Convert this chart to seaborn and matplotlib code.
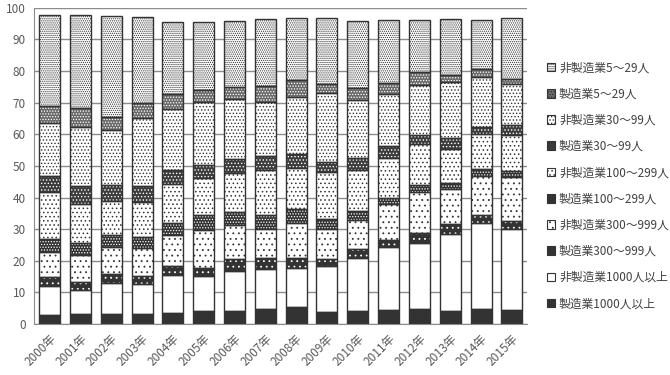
import numpy as np
import matplotlib
matplotlib.use("Agg")
import matplotlib.pyplot as plt
from matplotlib.patches import Rectangle, Patch
import seaborn as sns

# 企業規模別の構成（2000〜2015年）
years = [f"{y}年" for y in range(2000, 2016)]

mfg_1000 = [3.0, 3.3, 3.3, 3.3, 3.6, 4.1, 4.1, 4.7, 5.4, 3.8, 4.1, 4.4, 4.7, 4.1, 4.7, 4.4]
non_1000 = [9.1, 7.6, 9.8, 9.3, 12.0, 11.2, 12.8, 12.8, 12.4, 14.7, 16.9, 20.1, 21.0, 24.5, 27.4, 25.8]
mfg_300 = [2.8, 2.4, 2.7, 2.5, 2.9, 2.4, 3.7, 3.3, 3.0, 2.0, 2.6, 2.0, 3.0, 2.9, 2.3, 2.5]
non_300 = [8.0, 8.6, 8.4, 9.0, 9.7, 11.9, 10.8, 9.4, 11.3, 9.4, 9.2, 11.4, 12.9, 11.3, 12.3, 13.9]
mfg_100 = [3.9, 3.7, 4.0, 3.4, 3.8, 4.9, 4.0, 4.2, 4.2, 3.2, 3.0, 1.8, 2.3, 1.8, 2.4, 1.7]
non_100 = [15.1, 12.5, 10.6, 11.0, 12.3, 11.8, 12.5, 14.2, 12.9, 15.1, 13.0, 12.9, 12.9, 10.9, 11.1, 11.5]
mfg_30 = [4.9, 5.7, 5.2, 5.2, 4.4, 3.9, 4.2, 4.5, 4.5, 3.0, 3.6, 3.8, 3.1, 3.3, 2.0, 3.2]
non_30 = [16.9, 18.6, 17.4, 21.4, 19.3, 19.9, 19.2, 17.0, 18.2, 22.0, 18.4, 16.2, 15.8, 17.7, 15.9, 12.8]
mfg_5 = [5.2, 5.8, 4.0, 4.7, 4.7, 3.8, 3.6, 5.1, 5.2, 2.6, 3.8, 3.6, 3.9, 2.2, 2.5, 1.6]
non_5 = [28.9, 29.6, 32.1, 27.2, 22.8, 21.5, 20.9, 21.2, 19.6, 20.9, 21.2, 19.9, 16.5, 17.7, 15.5, 19.3]

labels = ["製造業1000人以上", "非製造業1000人以上", "製造業300～999人", "非製造業300～999人",
          "製造業100～299人", "非製造業100～299人", "製造業30～99人", "非製造業30～99人",
          "製造業5～29人", "非製造業5～29人"]
series = [mfg_1000, non_1000, mfg_300, non_300, mfg_100, non_100, mfg_30, non_30, mfg_5, non_5]

dark = "#333333"
# (塗り, 模様の色, 模様)
styles = [
    (dark, dark, ""),
    ("white", dark, ""),
    (dark, "white", "..."),
    ("white", dark, "..."),
    (dark, "white", "......"),
    ("white", dark, "...."),
    ("#3c3c3c", "white", "....."),
    ("white", dark, "....."),
    ("#6a6a6a", "white", "......"),
    ("white", dark, "........"),
]

sns.set_style("white")
plt.rcParams["font.family"] = ["Noto Sans CJK JP", "DejaVu Sans"]
plt.rcParams["hatch.linewidth"] = 0.6

fig = plt.figure(figsize=(6.7, 3.75), dpi=100)
ax = fig.add_axes([0.051, 0.136, 0.736, 0.843])

bottom = np.zeros(len(years))
for vals, (face, hcol, hatch) in zip(series, styles):
    n0 = len(ax.patches)
    sns.barplot(x=years, y=vals, bottom=bottom, color=face, edgecolor=hcol,
                hatch=hatch, linewidth=0, width=0.68, saturation=1, ax=ax)
    for p in ax.patches[n0:]:
        ax.add_patch(Rectangle(p.get_xy(), p.get_width(), p.get_height(),
                               fill=False, edgecolor=dark, linewidth=1.0, zorder=3))
    bottom += np.array(vals)

ax.set_ylim(0, 100)
ax.set_xlim(-0.5, len(years) - 0.5)
ax.set_yticks(range(0, 101, 10))
ax.yaxis.grid(True, color="#8c8c8c", linewidth=1)
ax.set_axisbelow(True)
for s in ["top", "right"]:
    ax.spines[s].set_visible(False)
ax.spines["left"].set_color("#8c8c8c")
ax.spines["bottom"].set_color("#8c8c8c")
ax.set_xlabel("")
ax.set_ylabel("")

ax.set_xticks(np.arange(-0.5, len(years), 1.0), minor=True)
ax.tick_params(axis="x", which="minor", length=5, color="#8c8c8c", width=1)
ax.tick_params(axis="x", which="major", length=0, labelsize=8.5, labelcolor="#595959", pad=6)
ax.tick_params(axis="y", length=0, labelsize=8.5, labelcolor="#595959", pad=6)
plt.setp(ax.get_xticklabels(), rotation=45, ha="right", rotation_mode="anchor")

handles = [Patch(facecolor=f, edgecolor=h if f == "white" else dark, hatch=ht, linewidth=0.8)
           for f, h, ht in styles]
fig.legend(handles[::-1], labels[::-1], loc="upper left", bbox_to_anchor=(0.8, 0.865),
           frameon=False, fontsize=8.5, handlelength=0.75, handleheight=0.75,
           handletextpad=0.3, labelspacing=1.12, labelcolor="#404040")

fig.savefig("out.png", dpi=100)
